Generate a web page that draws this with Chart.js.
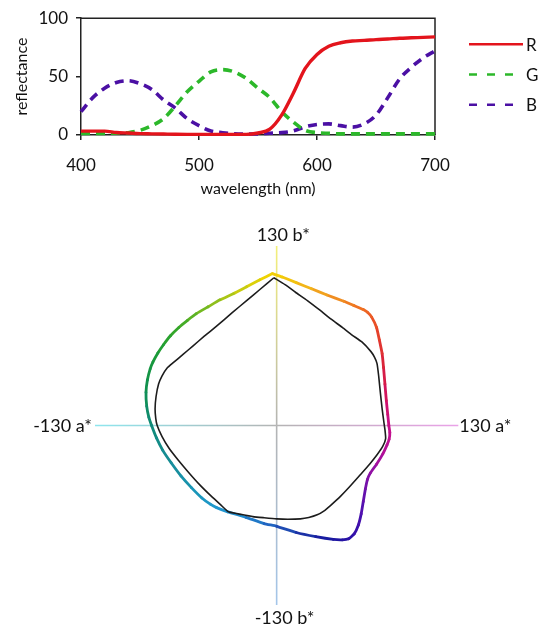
<!DOCTYPE html>
<html>
<head>
<meta charset="utf-8">
<script src="https://cdn.jsdelivr.net/npm/chart.js@4.4.1/dist/chart.umd.min.js"></script>
<style>
  html, body { margin: 0; padding: 0; background: #fff; }
  #spectra { position: absolute; left: 0; top: 0; }
  #gamut { position: absolute; left: 0; top: 210px; }
</style>
</head>
<body>
<canvas id="spectra" width="545" height="210"></canvas>
<canvas id="gamut" width="545" height="421"></canvas>
<script>
// --- reflectance spectra (top) ---
const wavelengths = [400, 410, 420, 430, 440, 450, 460, 470, 480, 490, 500, 510, 520, 530, 540, 550,
                     560, 570, 580, 590, 600, 610, 620, 630, 640, 650, 660, 670, 680, 690, 700];
const reflR = [3.3, 3.3, 3.3, 2.2, 1.7, 1.2, 1, 0.8, 0.6, 0.5, 0.5, 0.5, 0.5, 0.5, 0.5, 1.7,
               5, 17, 36, 57, 69, 76, 79, 80.5, 81, 81.7, 82.2, 82.8, 83.2, 83.6, 84];
const reflG = [1.4, 1.4, 1.4, 1.6, 2, 4, 8, 14, 25, 37, 46, 54, 56, 54, 48.5, 40,
               32, 20, 11, 4, 2, 1.4, 1, 1, 1, 1, 1, 1, 1, 1, 1];
const reflB = [20, 32, 40, 45, 46.5, 44, 39, 30, 23, 14, 8, 3.5, 2, 1, 0.8, 1,
               1.5, 2, 3.5, 7, 9, 9.5, 8, 6.7, 9.5, 17, 32, 48, 58, 66, 72];
const xTicks = [400, 500, 600, 700];
const yTicks = [0, 50, 100];
const seriesNames = ['R', 'G', 'B'];

// --- a*b* gamut (bottom) ---
// outer (coloured) outline, counter-clockwise from the yellow apex
const gamutA = [-3, -12, -21.5, -31, -40.5, -49, -57.5, -64, -70, -76, -81, -85, -88.5, -90.5, -92.5, -93.5,
                -93, -91.5, -89.5, -86, -81.5, -75.5, -68.5, -61, -53.5, -47.5, -43, -35, -22, -9, 0, 14,
                28, 40.5, 47, 51.5, 55.5, 58.5, 60.5, 62, 63.5, 65, 67, 71.5, 76, 79, 80.5, 81,
                80.3, 79.5, 78.5, 77.5, 76.5, 75.5, 73.5, 71.5, 68, 65, 62, 55, 48, 36, 25, 14, 4, -3];
const gamutB = [110, 105.5, 100.5, 95.5, 91, 86, 81, 76, 71, 65, 58.5, 52.5, 46, 41, 33, 24,
                14, 6, 0, -9, -18, -27, -36.5, -45, -52.5, -57, -59.5, -62.5, -66.5, -71, -73, -77.5,
                -80.5, -82.5, -82.8, -82, -78.5, -72, -64, -55, -46, -39, -34.5, -28, -20.5, -14, -10, -5,
                0, 8, 18, 30, 42, 52, 62, 71, 78.5, 82, 84, 87, 90, 94.5, 99, 103.5, 107.5, 110];
// inner (black) outline
const innerA = [-2, -12, -21.5, -32, -43, -52, -60, -67, -74, -78.5, -82, -84.5, -86.3, -87, -86.5, -85.5,
                -82, -77, -70.5, -63, -55, -47, -40, -34.5, -25, -17, -9, 0, 8, 17, 23, 29,
                34, 38.5, 46, 53, 60, 66.5, 72, 76, 78, 77.5, 76.8, 75.5, 74.2, 73, 71.8, 70,
                67.5, 61, 54, 47, 39, 31, 22, 13.5, 6, -2];
const innerB = [107, 98.5, 90.5, 81.5, 72, 64.5, 57.5, 51.5, 45.5, 41.5, 36, 30, 21, 12, 5, 0,
                -8, -16.5, -25, -34, -43, -51, -57.5, -62.5, -64.5, -66, -66.8, -67.6, -67.9, -67.6, -66.6, -64.7,
                -61.8, -58, -51, -43.5, -35.5, -28, -21, -15, -9.5, -3, 2, 12, 24, 36, 45, 49.5,
                53.5, 60.5, 65.5, 71, 77, 83.5, 90.5, 96.5, 102, 107];
const axisLimit = 130;
const axisLabels = ['130 b*', '-130 b*', '-130 a*', '130 a*'];

// hue stops (Lab hue angle in degrees -> stroke colour)
const hueAngles = [-180, -160, -140, -125, -110, -92, -78, -65, -55, -45, -30, -15, 0, 12, 30, 45,
                   55, 70, 80, 93, 105, 120, 135, 150, 165, 180];
const hueColors = ['#108a78', '#168c98', '#1a96b8', '#2098d0', '#2088cc', '#2060c0', '#1c38a8', '#1818a0',
                   '#3010a8', '#5010b0', '#8010a8', '#b0109a', '#c8108a', '#d01068', '#d8203c', '#e84828',
                   '#ef6e22', '#f09a20', '#f2b818', '#f2d400', '#c8cc10', '#80bc20', '#38a828', '#1a9a38',
                   '#109050', '#108a78'];

Chart.defaults.font.family = 'Lato, "DejaVu Sans", sans-serif';
Chart.defaults.color = '#111';

function hexRgb(h) {
    return [parseInt(h.slice(1, 3), 16), parseInt(h.slice(3, 5), 16), parseInt(h.slice(5, 7), 16)];
}

function hueColor(deg) {
    for (let i = 1; i < hueAngles.length; i++) {
        if (deg <= hueAngles[i]) {
            const t = (deg - hueAngles[i - 1]) / (hueAngles[i] - hueAngles[i - 1]);
            const c0 = hexRgb(hueColors[i - 1]), c1 = hexRgb(hueColors[i]);
            const c = c0.map((v, k) => Math.round(v + (c1[k] - v) * t));
            return `rgb(${c[0]},${c[1]},${c[2]})`;
        }
    }
    return hueColors[hueColors.length - 1];
}

// ---------- top chart ----------
const lineColors = ['#e3141c', '#2cb82a', '#4b10a4'];
const lineDash = [[], [9, 6], [9, 6]];
const seriesValues = [reflR, reflG, reflB];

const frameBox = {
    id: 'frameBox',
    beforeDatasetsDraw(chart) {
        const { ctx, chartArea: a } = chart;
        ctx.save();
        ctx.strokeStyle = '#222';
        ctx.lineWidth = 1.5;
        ctx.beginPath();
        ctx.moveTo(a.left, a.top);
        ctx.lineTo(a.right, a.top);
        ctx.lineTo(a.right, a.bottom);
        ctx.stroke();
        ctx.restore();
    }
};

const sideLegend = {
    id: 'sideLegend',
    afterDraw(chart) {
        const { ctx, chartArea: a } = chart;
        ctx.save();
        chart.data.datasets.forEach((ds, i) => {
            const y = a.top + 26 + i * 30.3;
            ctx.strokeStyle = ds.borderColor;
            ctx.lineWidth = 2.6;
            ctx.setLineDash(ds.borderDash.length ? [8, 10] : []);
            ctx.beginPath();
            ctx.moveTo(a.right + 34, y);
            ctx.lineTo(a.right + 88, y);
            ctx.stroke();
            ctx.setLineDash([]);
            ctx.fillStyle = '#111';
            ctx.font = '17px Lato, sans-serif';
            ctx.textAlign = 'left';
            ctx.textBaseline = 'middle';
            ctx.fillText(ds.label, a.right + 91, y + 1);
        });
        ctx.restore();
    }
};

new Chart(document.getElementById('spectra'), {
    type: 'line',
    data: {
        datasets: seriesNames.map((name, i) => ({
            label: name,
            data: wavelengths.map((w, k) => ({ x: w, y: seriesValues[i][k] })),
            borderColor: lineColors[i],
            borderWidth: i === 0 ? 3.4 : 3.6,
            borderDash: lineDash[i],
            borderCapStyle: 'butt',
            cubicInterpolationMode: 'monotone',
            pointRadius: 0,
            clip: false
        }))
    },
    options: {
        responsive: false,
        animation: false,
        devicePixelRatio: 1,
        layout: { padding: { left: 12, top: 15, right: 110, bottom: 12 } },
        plugins: { legend: { display: false }, tooltip: { enabled: false } },
        scales: {
            x: {
                type: 'linear', min: 400, max: 700,
                afterBuildTicks: s => { s.ticks = xTicks.map(v => ({ value: v })); },
                afterFit: s => { s.height = 63; },
                grid: { drawOnChartArea: false, drawTicks: true, tickLength: 5, color: '#222', lineWidth: 1.5 },
                border: { color: '#222', width: 1.5 },
                ticks: { padding: 15, font: { size: 17 }, color: '#111', maxRotation: 0 },
                title: { display: true, text: 'wavelength (nm)', font: { size: 16 }, padding: { top: 0, bottom: 0 }, color: '#111' }
            },
            y: {
                type: 'linear', min: 0, max: 100,
                afterBuildTicks: s => { s.ticks = yTicks.map(v => ({ value: v })); },
                afterFit: s => { s.width = 69; },
                grid: { drawOnChartArea: false, drawTicks: true, tickLength: 5, color: '#222', lineWidth: 1.5 },
                border: { color: '#222', width: 1.5 },
                ticks: { padding: 8, font: { size: 17 }, color: '#111' },
                title: { display: true, text: 'reflectance', font: { size: 16 }, padding: { top: 0, bottom: 0 }, color: '#111' }
            }
        }
    },
    plugins: [frameBox, sideLegend]
});

// ---------- bottom chart ----------
function axisGradient(from, to, c0, c1) {
    return (c) => {
        const { chart } = c;
        const { ctx, chartArea, scales } = chart;
        if (!chartArea) return c0;
        const g = ctx.createLinearGradient(
            scales.x.getPixelForValue(from[0]), scales.y.getPixelForValue(from[1]),
            scales.x.getPixelForValue(to[0]), scales.y.getPixelForValue(to[1]));
        g.addColorStop(0, c0);
        g.addColorStop(1, c1);
        return g;
    };
}

const axisHalves = [
    { from: [-axisLimit, 0], to: [0, 0], c0: '#8ee6ee', c1: '#b4b4b4' },
    { from: [0, 0], to: [axisLimit, 0], c0: '#b4b4b4', c1: '#eaa2e8' },
    { from: [0, axisLimit], to: [0, 0], c0: '#f4f07a', c1: '#b4b4b4' },
    { from: [0, 0], to: [0, -axisLimit], c0: '#b4b4b4', c1: '#a4c6ea' }
];

const axisText = {
    id: 'axisText',
    afterDraw(chart) {
        const { ctx, scales: { x, y } } = chart;
        const x0 = x.getPixelForValue(0), y0 = y.getPixelForValue(0);
        ctx.save();
        ctx.fillStyle = '#111';
        ctx.font = '18px Lato, sans-serif';
        ctx.textBaseline = 'middle';
        ctx.textAlign = 'left';
        ctx.fillText(axisLabels[0], x0 - 20, y.getPixelForValue(axisLimit) - 11);
        ctx.fillText(axisLabels[1], x0 - 22, y.getPixelForValue(-axisLimit) + 13);
        ctx.textAlign = 'right';
        ctx.fillText(axisLabels[2], x.getPixelForValue(-axisLimit) - 3, y0 + 1);
        ctx.textAlign = 'left';
        ctx.fillText(axisLabels[3], x.getPixelForValue(axisLimit) + 1, y0 + 1);
        ctx.restore();
    }
};

new Chart(document.getElementById('gamut'), {
    type: 'scatter',
    data: {
        datasets: [
            {
                label: 'inner',
                data: innerA.map((a, i) => ({ x: a, y: innerB[i] })),
                showLine: true, borderColor: '#1c1c1c', borderWidth: 1.6,
                borderJoinStyle: 'round', pointRadius: 0, tension: 0.15, clip: false
            },
            {
                label: 'outer',
                data: gamutA.map((a, i) => ({ x: a, y: gamutB[i] })),
                showLine: true, borderWidth: 2.8, borderJoinStyle: 'round', borderCapStyle: 'round',
                pointRadius: 0, tension: 0.15, clip: false,
                segment: {
                    borderColor: (s) => {
                        const i0 = s.p0DataIndex, i1 = s.p1DataIndex;
                        const ma = (gamutA[i0] + gamutA[i1]) / 2, mb = (gamutB[i0] + gamutB[i1]) / 2;
                        return hueColor(Math.atan2(mb, ma) * 180 / Math.PI);
                    }
                }
            },
            ...axisHalves.map(h => ({
                label: 'axis',
                data: [{ x: h.from[0], y: h.from[1] }, { x: h.to[0], y: h.to[1] }],
                showLine: true, borderWidth: 1.6, pointRadius: 0,
                borderColor: axisGradient(h.from, h.to, h.c0, h.c1), clip: false
            }))
        ]
    },
    options: {
        responsive: false,
        animation: false,
        devicePixelRatio: 1,
        layout: { padding: { left: 95, right: 86.7, top: 36, bottom: 26 } },
        plugins: { legend: { display: false }, tooltip: { enabled: false } },
        scales: {
            x: { type: 'linear', min: -axisLimit, max: axisLimit, display: false },
            y: { type: 'linear', min: -axisLimit, max: axisLimit, display: false }
        }
    },
    plugins: [axisText]
});
</script>
</body>
</html>
